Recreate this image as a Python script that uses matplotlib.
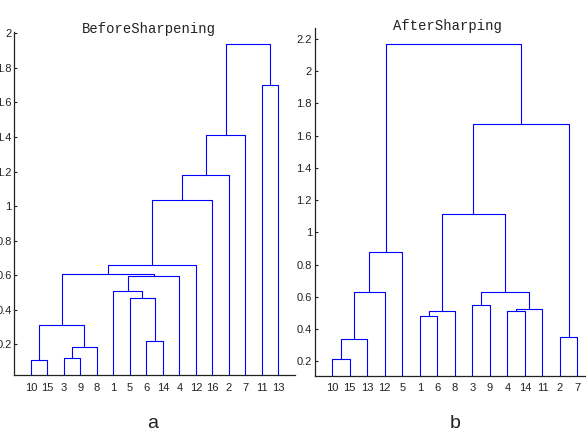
import matplotlib
matplotlib.use("Agg")
import matplotlib.pyplot as plt

# leaf order as shown, and merges (left id, right id, height);
# merged clusters get ids n+1, n+2, ... in the order listed
before_leaves = [10, 15, 3, 9, 8, 1, 5, 6, 14, 4, 12, 16, 2, 7, 11, 13]
before_links = [
    (10, 15, 0.111),
    (3, 9, 0.123),
    (18, 8, 0.183),
    (17, 19, 0.314),
    (6, 14, 0.217),
    (5, 21, 0.470),
    (1, 22, 0.510),
    (23, 4, 0.598),
    (20, 24, 0.605),
    (25, 12, 0.657),
    (26, 16, 1.034),
    (27, 2, 1.180),
    (28, 7, 1.414),
    (11, 13, 1.700),
    (29, 30, 1.940),
]
before_yticks = [0.2, 0.4, 0.6, 0.8, 1.0, 1.2, 1.4, 1.6, 1.8, 2.0]

after_leaves = [10, 15, 13, 12, 5, 1, 6, 8, 3, 9, 4, 14, 11, 2, 7]
after_links = [
    (10, 15, 0.212),
    (16, 13, 0.338),
    (17, 12, 0.628),
    (18, 5, 0.880),
    (1, 6, 0.483),
    (20, 8, 0.514),
    (3, 9, 0.547),
    (4, 14, 0.512),
    (23, 11, 0.525),
    (22, 24, 0.628),
    (21, 25, 1.115),
    (2, 7, 0.349),
    (26, 27, 1.673),
    (19, 28, 2.171),
]
after_yticks = [0.2, 0.4, 0.6, 0.8, 1.0, 1.2, 1.4, 1.6, 1.8, 2.0, 2.2]

TICK_FONT = ["Liberation Sans Narrow", "Liberation Sans", "DejaVu Sans"]


def draw_dendrogram(ax, leaves, links, yticks, ylim):
    n = len(leaves)
    xpos = {leaf: i + 1 for i, leaf in enumerate(leaves)}
    ypos = {leaf: 0.0 for leaf in leaves}
    for k, (a, b, h) in enumerate(links):
        ax.plot([xpos[a], xpos[a], xpos[b], xpos[b]],
                [ypos[a], h, h, ypos[b]], color="#0000ff", lw=0.8)
        xpos[n + 1 + k] = (xpos[a] + xpos[b]) / 2
        ypos[n + 1 + k] = h
    ax.set_xlim(0, n + 1)
    ax.set_ylim(*ylim)
    ax.set_xticks(range(1, n + 1))
    ax.set_xticklabels([str(v) for v in leaves], family=TICK_FONT, fontsize=8, color="#222222")
    ax.set_yticks(yticks)
    ax.set_yticklabels([f"{v:g}" for v in yticks], family=TICK_FONT, fontsize=8, color="#222222")
    ax.tick_params(axis="x", length=0, pad=5.5)
    ax.tick_params(axis="y", direction="in", length=2, width=0.8, pad=2, color="#222222")
    for side in ("top", "right"):
        ax.spines[side].set_visible(False)
    for side in ("left", "bottom"):
        ax.spines[side].set_color("#222222")
        ax.spines[side].set_linewidth(0.9)


fig = plt.figure(figsize=(5.86, 4.30), dpi=100)
W, H = 586, 430

ax1 = fig.add_axes([14.3 / W, 1 - 375.3 / H, 280.7 / W, 343.6 / H])
draw_dendrogram(ax1, before_leaves, before_links, before_yticks, (0.021, 2.009))

ax2 = fig.add_axes([314.7 / W, 1 - 375.7 / H, 280.3 / W, 347.4 / H])
draw_dendrogram(ax2, after_leaves, after_links, after_yticks, (0.111, 2.266))

fig.text(148.7 / W, 1 - 32.7 / H, "BeforeSharpening", family="Liberation Mono",
         fontsize=10, ha="center", va="baseline", color="#222222")
fig.text(447 / W, 1 - 30 / H, "AfterSharping", family="Liberation Mono",
         fontsize=10, ha="center", va="baseline", color="#222222")
fig.text(153 / W, 1 - 428 / H, "a", family=TICK_FONT, fontsize=14,
         ha="center", va="baseline", color="#222222")
fig.text(455 / W, 1 - 428 / H, "b", family=TICK_FONT, fontsize=14,
         ha="center", va="baseline", color="#222222")

fig.savefig("out.png", dpi=100)
